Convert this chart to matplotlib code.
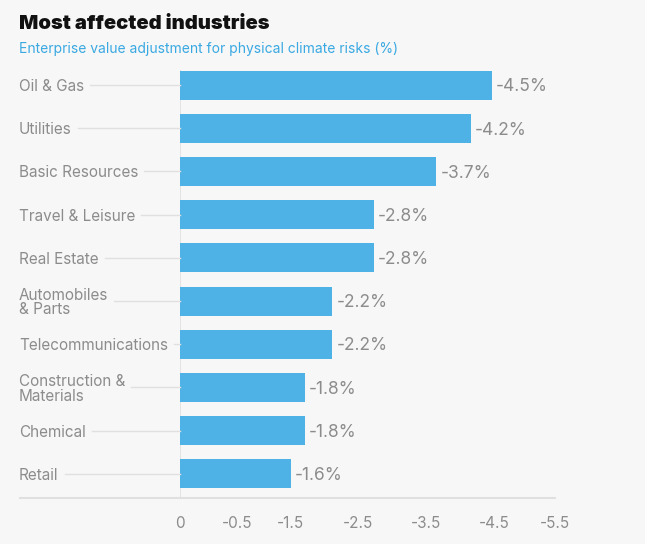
import matplotlib
matplotlib.use("Agg")
import matplotlib.pyplot as plt
from matplotlib.lines import Line2D

categories = ["Oil & Gas", "Utilities", "Basic Resources", "Travel & Leisure", "Real Estate",
              "Automobiles\n& Parts", "Telecommunications", "Construction &\nMaterials",
              "Chemical", "Retail"]
values = [-4.5, -4.2, -3.7, -2.8, -2.8, -2.2, -2.2, -1.8, -1.8, -1.6]
tick_labels = ["0", "-0.5", "-1.5", "-2.5", "-3.5", "-4.5", "-5.5"]
tick_pos = [0, -0.83, -1.6, -2.57, -3.55, -4.53, -5.41]

BG = "#f7f7f7"
BAR = "#4eb2e6"
GRAY = "#8c8c8c"
LINE = "#e0e0e0"
FONT = ["Inter", "DejaVu Sans"]

W, H = 645, 544
fig = plt.figure(figsize=(W / 100, H / 100), dpi=100, facecolor=BG)

def fx(px): return px / W
def fy(py): return 1 - py / H

ax_left, ax_right, ax_top, ax_bot = 180, 561, 70, 498
ax = fig.add_axes([fx(ax_left), fy(ax_bot), fx(ax_right - ax_left), (ax_bot - ax_top) / H])
ax.set_facecolor(BG)

ypos = list(range(len(categories)))
ax.barh(ypos, values, height=0.67, color=BAR, zorder=3)
ax.set_xlim(0, -5.5)
ax.set_ylim(9.56, -0.35)

for y, v in zip(ypos, values):
    ax.text(v - 0.06, y + 0.04, f"{v:.1f}%", ha="left", va="center", fontsize=12.5,
            color=GRAY, family=FONT, zorder=4)

for s in ax.spines.values():
    s.set_visible(False)
ax.axvline(0, color=LINE, lw=1.2, zorder=2)
ax.set_yticks([])
ax.set_xticks(tick_pos)
ax.set_xticklabels(tick_labels, fontsize=11, color=GRAY, family=FONT)
ax.tick_params(axis="x", length=0, pad=13)

# bottom axis line extending to left
fig.add_artist(Line2D([fx(20), fx(555)], [fy(498), fy(498)], color=LINE, lw=1.5))

# category labels and leader lines
texts = []
for y, c in zip(ypos, categories):
    yp = ax.transData.transform((0, y))[1]
    yf = yp / H
    t = fig.text(fx(19), yf - 1.5 / H, c, ha="left", va="center", fontsize=11, color=GRAY,
                 family=FONT, linespacing=0.95)
    texts.append((t, yf, c))

fig.canvas.draw()
r = fig.canvas.get_renderer()
for t, yf, c in texts:
    bb = t.get_window_extent(r)
    first = c.split("\n")[0]
    if "\n" in c:
        tmp = fig.text(fx(19), yf, first, ha="left", va="center", fontsize=11, family=FONT)
        x_end = tmp.get_window_extent(r).x1
        tmp.remove()
    else:
        x_end = bb.x1
    fig.add_artist(Line2D([(x_end + 6) / W, fx(180)], [yf, yf], color=LINE, lw=1.0))

fig.text(fx(19), fy(24), "Most affected industries", ha="left", va="center",
         fontsize=14.5, fontweight=900, color="#111111", family=FONT)
fig.text(fx(19), fy(49), "Enterprise value adjustment for physical climate risks (%)",
         ha="left", va="center", fontsize=10, color="#3aa9e2", family=FONT)

fig.savefig("out.png", dpi=100, facecolor=BG)
